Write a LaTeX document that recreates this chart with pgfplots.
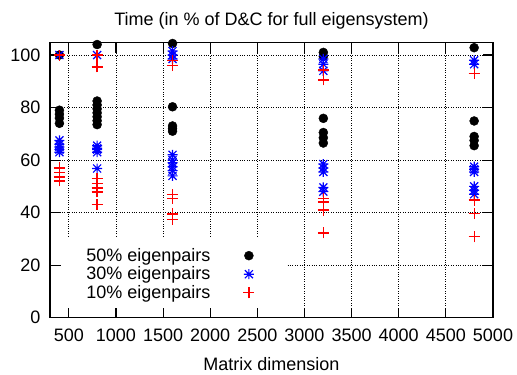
\documentclass[border=0pt]{standalone}
\usepackage{pgfplots}
\pgfplotsset{compat=1.18}
\usepackage{fontspec}
\setmainfont{Liberation Sans}
\pgfdeclareplotmark{gstar}{%
 \pgfpathmoveto{\pgfqpoint{-\pgfplotmarksize}{0pt}}\pgfpathlineto{\pgfqpoint{\pgfplotmarksize}{0pt}}%
 \pgfpathmoveto{\pgfqpoint{0pt}{-\pgfplotmarksize}}\pgfpathlineto{\pgfqpoint{0pt}{\pgfplotmarksize}}%
 \pgfpathmoveto{\pgfqpoint{-0.8\pgfplotmarksize}{-0.8\pgfplotmarksize}}\pgfpathlineto{\pgfqpoint{0.8\pgfplotmarksize}{0.8\pgfplotmarksize}}%
 \pgfpathmoveto{\pgfqpoint{-0.8\pgfplotmarksize}{0.8\pgfplotmarksize}}\pgfpathlineto{\pgfqpoint{0.8\pgfplotmarksize}{-0.8\pgfplotmarksize}}%
 \pgfusepathqstroke}
\pgfdeclareplotmark{gplus}{%
 \pgfpathmoveto{\pgfqpoint{-\pgfplotmarksize}{0pt}}\pgfpathlineto{\pgfqpoint{\pgfplotmarksize}{0pt}}%
 \pgfpathmoveto{\pgfqpoint{0pt}{-\pgfplotmarksize}}\pgfpathlineto{\pgfqpoint{0pt}{\pgfplotmarksize}}%
 \pgfusepathqstroke}
\newcommand{\fs}{\fontsize{18}{20}\selectfont}
\begin{document}
\begin{tikzpicture}
\begin{axis}[
  scale only axis, width=443pt, height=275pt,
  xmin=300, xmax=5000, ymin=0, ymax=104.7,
  xtick={500,1000,...,5000}, ytick={0,20,...,100},
  /pgf/number format/assume math mode=true,
  /pgf/number format/set thousands separator={},
  tick label style={font=\fs},
  yticklabel style={xshift=-6pt},
  xticklabel style={yshift=-8pt},
  tick align=inside, major tick length=10pt,
  tick style={black, line width=1.2pt},
  axis line style={line width=1.5pt},
  grid=major, grid style={black, dotted, line width=0.8pt},
  title={Time (in \% of D\&C for full eigensystem)},
  title style={font=\fs, yshift=4pt},
  xlabel={Matrix dimension}, xlabel style={font=\fs, yshift=-9pt},
  clip=false,
  legend cell align=right, legend plot pos=right,
  legend style={draw=none, fill=none, font=\fs, at={(0.077,0.26)}, anchor=north west, inner sep=0pt, row sep=0pt, column sep=31pt},
]
\fill[white] (axis cs:415,4.4) rectangle (axis cs:2809,30.7);
\addplot[only marks, mark=*, mark size=4.5pt, black] coordinates {
(400,100)(400,79)(400,77.5)(400,76)(400,74)
(800,104)(800,82.5)(800,81)(800,79.5)(800,78)(800,76.5)(800,75)(800,73.5)
(1600,104.4)(1600,80.3)(1600,73)(1600,72)(1600,71)
(3200,101)(3200,99.5)(3200,75.9)(3200,70.5)(3200,68.5)(3200,66.5)
(4800,102.8)(4800,74.9)(4800,69)(4800,67.5)(4800,65.5)
};
\addlegendentry{50\% eigenpairs}
\addplot[only marks, mark=gstar, mark size=5pt, draw=blue, line width=1.2pt, mark options={draw=blue, solid}] coordinates {
(400,100)(400,67.5)(400,66)(400,65)(400,64)(400,63)
(800,100)(800,65.5)(800,64.5)(800,64)(800,63)(800,56.8)
(1600,101.5)(1600,100)(1600,98.5)(1600,62)(1600,60)(1600,59)(1600,57.5)(1600,56)(1600,54)
(3200,98.5)(3200,96.5)(3200,94)(3200,58.5)(3200,57)(3200,55.5)(3200,49.6)(3200,48)
(4800,98)(4800,96.5)(4800,57.5)(4800,56.5)(4800,55.5)(4800,50)(4800,48.5)(4800,47)
};
\addlegendentry{30\% eigenpairs}
\addplot[only marks, mark=gplus, mark size=5.5pt, draw=red, line width=1.3pt, mark options={draw=red, solid}] coordinates {
(400,100)(400,57)(400,55.3)(400,53.6)(400,52.1)
(800,100)(800,95.5)(800,53)(800,51.1)(800,49.4)(800,47.9)(800,43.1)
(1600,98)(1600,96)(1600,47)(1600,45.5)(1600,39.5)(1600,37.5)
(3200,94.3)(3200,90.5)(3200,45.4)(3200,44.1)(3200,41)(3200,32.3)
(4800,93)(4800,44.8)(4800,39.7)(4800,30.8)
};
\addlegendentry{10\% eigenpairs}
\end{axis}
\pgfresetboundingbox
\path (-50pt,-56.5pt) rectangle (467pt,317.7pt);
\end{tikzpicture}
\end{document}
